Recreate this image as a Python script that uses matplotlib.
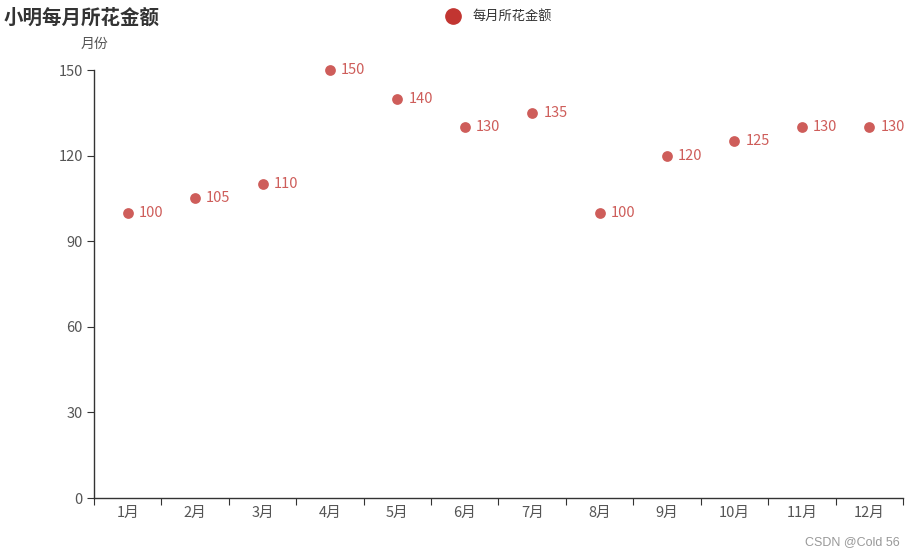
import matplotlib.pyplot as plt
from matplotlib.ticker import FixedLocator

plt.rcParams['font.family'] = ['Noto Sans CJK SC', 'DejaVu Sans']

months = ['1月', '2月', '3月', '4月', '5月', '6月', '7月', '8月', '9月', '10月', '11月', '12月']
amounts = [100, 105, 110, 150, 140, 130, 135, 100, 120, 125, 130, 130]
y_ticks = [0, 30, 60, 90, 120, 150]

series_color = '#c23531'
axis_color = '#333333'
text_color = '#555555'

fig = plt.figure(figsize=(9.15, 5.57), dpi=100)
ax = fig.add_axes([94 / 915, 59 / 557, 809 / 915, 428 / 557])

x = list(range(len(months)))
ax.scatter(x, amounts, s=60, color=series_color, alpha=0.8, linewidths=0, zorder=3, clip_on=False)
for xi, v in zip(x, amounts):
    ax.annotate(str(v), (xi, v), xytext=(8, 0), textcoords='offset points',
                ha='left', va='center', fontsize=10.5, color=series_color, alpha=0.8,
                annotation_clip=False)

ax.set_xlim(-0.5, len(months) - 0.5)
ax.set_ylim(0, 150)

for side in ['top', 'right']:
    ax.spines[side].set_visible(False)
for side in ['left', 'bottom']:
    ax.spines[side].set_color(axis_color)
    ax.spines[side].set_linewidth(1)

# category boundary ticks, labels in the middle
ax.xaxis.set_major_locator(FixedLocator([i - 0.5 for i in range(len(months) + 1)]))
ax.xaxis.set_minor_locator(FixedLocator(x))
ax.tick_params(axis='x', which='major', length=5, color=axis_color, labelbottom=False)
ax.set_xticks(x, months, minor=True)
ax.tick_params(axis='x', which='minor', length=0, pad=6, labelsize=10.5, labelcolor=text_color)

ax.set_yticks(y_ticks)
ax.tick_params(axis='y', length=5, color=axis_color, pad=3, labelsize=10.5, labelcolor=text_color)

ax.text(0.0, 1.06, '月份', transform=ax.transAxes, ha='center', va='center',
        fontsize=10, color=text_color)

fig.text(4 / 915, 1 - 18 / 557, '小明每月所花金额', ha='left', va='center',
         fontsize=14, fontweight='bold', color='#333333')

# legend
fig.lines.append(plt.Line2D([453 / 915], [1 - 16 / 557], marker='o', markersize=11,
                            color=series_color, linestyle='none', transform=fig.transFigure))
fig.text(473 / 915, 1 - 16 / 557, '每月所花金额', ha='left', va='center',
         fontsize=9.5, color='#333333')

fig.text(900 / 915, 1 - 542 / 557, 'CSDN @Cold 56', ha='right', va='center',
         fontsize=9, color='#999999', family=['Liberation Sans'])

fig.savefig('out.png', dpi=100)
